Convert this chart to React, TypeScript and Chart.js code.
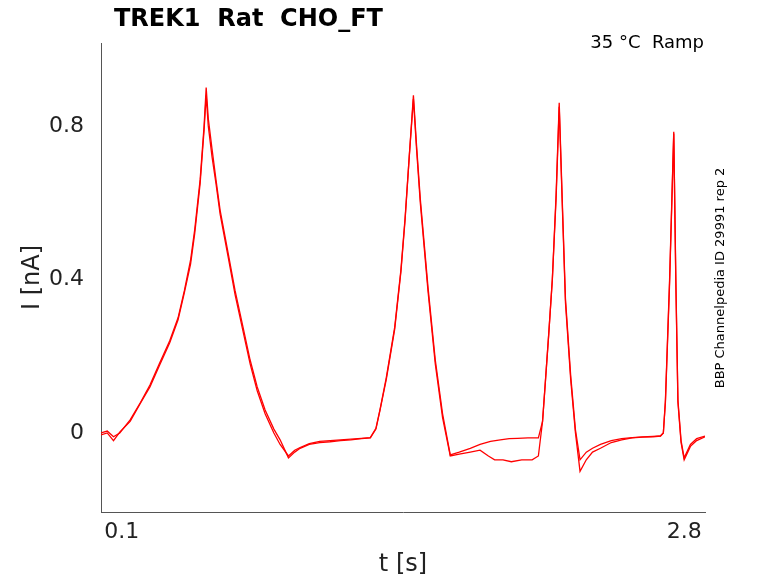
import React, { useEffect, useRef } from "react";
import { Chart, registerables } from "chart.js";
Chart.register(...registerables);

const traceA_t = [0,0.03,0.06,0.09,0.14,0.19,0.235,0.28,0.33,0.37,0.40,0.43,0.45,0.476,0.495,0.505,0.515,0.533,0.552,0.572,0.61,0.644,0.68,0.716,0.75,0.788,0.83,0.86,0.90,0.93,0.956,1.0,1.05,1.10,1.15,1.2,1.25,1.293,1.32,1.34,1.37,1.41,1.44,1.46,1.48,1.50,1.515,1.533,1.57,1.605,1.64,1.677,1.72,1.773,1.82,1.87,1.917,1.96,2.0,2.05,2.10,2.12,2.134,2.15,2.167,2.185,2.20,2.215,2.23,2.255,2.278,2.30,2.33,2.36,2.398,2.45,2.5,2.55,2.6,2.65,2.686,2.70,2.71,2.73,2.75,2.76,2.77,2.785,2.80,2.83,2.86,2.90];
const traceA_i = [0.0,0.005,-0.01,0.0,0.034,0.08,0.125,0.18,0.24,0.3,0.37,0.45,0.53,0.66,0.8,0.9,0.82,0.74,0.66,0.58,0.47,0.37,0.28,0.19,0.12,0.06,0.01,-0.018,-0.065,-0.05,-0.04,-0.03,-0.025,-0.023,-0.02,-0.018,-0.015,-0.013,0.01,0.06,0.14,0.27,0.42,0.555,0.72,0.88,0.75,0.61,0.38,0.19,0.05,-0.057,-0.05,-0.04,-0.03,-0.022,-0.018,-0.015,-0.014,-0.013,-0.013,0.03,0.138,0.26,0.40,0.62,0.86,0.6,0.35,0.15,0.008,-0.07,-0.05,-0.04,-0.03,-0.02,-0.015,-0.012,-0.01,-0.009,-0.008,0.0,0.086,0.4,0.785,0.4,0.086,-0.02,-0.065,-0.03,-0.015,-0.008];
const traceB_t = [0,0.03,0.06,0.09,0.14,0.19,0.235,0.28,0.33,0.37,0.40,0.43,0.45,0.476,0.495,0.505,0.515,0.533,0.552,0.572,0.61,0.644,0.68,0.716,0.75,0.788,0.83,0.86,0.90,0.93,0.956,1.0,1.05,1.10,1.15,1.2,1.25,1.293,1.32,1.34,1.37,1.41,1.44,1.46,1.48,1.50,1.515,1.533,1.57,1.605,1.64,1.677,1.72,1.773,1.82,1.86,1.89,1.93,1.97,2.02,2.07,2.10,2.12,2.134,2.15,2.167,2.185,2.20,2.215,2.23,2.255,2.278,2.30,2.33,2.36,2.398,2.45,2.5,2.55,2.6,2.65,2.686,2.70,2.71,2.73,2.75,2.76,2.77,2.785,2.80,2.83,2.86,2.90];
const traceB_i = [-0.005,0.0,-0.02,0.002,0.03,0.078,0.12,0.175,0.235,0.295,0.365,0.44,0.52,0.65,0.79,0.88,0.8,0.72,0.65,0.57,0.46,0.36,0.27,0.18,0.11,0.05,0.0,-0.03,-0.06,-0.045,-0.038,-0.028,-0.022,-0.02,-0.018,-0.016,-0.014,-0.012,0.012,0.062,0.145,0.275,0.425,0.56,0.72,0.87,0.74,0.6,0.37,0.18,0.04,-0.06,-0.055,-0.05,-0.045,-0.06,-0.07,-0.07,-0.075,-0.07,-0.07,-0.06,0.03,0.135,0.26,0.40,0.61,0.85,0.59,0.34,0.14,0.0,-0.1,-0.07,-0.05,-0.04,-0.025,-0.018,-0.013,-0.011,-0.01,-0.008,0.0,0.08,0.39,0.78,0.39,0.08,-0.025,-0.07,-0.035,-0.02,-0.01];

const xTicks = [0.1, 2.8];
const yTicks = [0, 0.4, 0.8];
const titleText = "TREK1  Rat  CHO_FT";
const condText = "35 °C  Ramp";
const sideText = "BBP Channelpedia ID 29991 rep 2";

export default function App() {
  const ref = useRef<HTMLCanvasElement>(null);
  useEffect(() => {
    const pts = (t: number[], v: number[]) => t.map((x, i) => ({ x, y: v[i] }));
    const font = "DejaVu Sans";
    const deco = {
      id: "deco",
      afterDraw(c: any) {
        const ctx = c.ctx;
        ctx.save();
        ctx.fillStyle = "#000";
        ctx.font = `bold 24px ${font}`;
        ctx.textBaseline = "alphabetic";
        ctx.fillText(titleText, 114, 26);
        ctx.font = `18px ${font}`;
        ctx.textAlign = "right";
        ctx.fillText(condText, 704, 48);
        ctx.font = `13px ${font}`;
        ctx.translate(721, 278);
        ctx.rotate(-Math.PI / 2);
        ctx.textAlign = "center";
        ctx.textBaseline = "middle";
        ctx.fillText(sideText, 0, 0);
        ctx.restore();
      },
    };
    const chart = new Chart(ref.current!, {
      type: "line",
      data: {
        datasets: [
          { data: pts(traceA_t, traceA_i), borderColor: "#ff0000", borderWidth: 1.3, pointRadius: 0, tension: 0 },
          { data: pts(traceB_t, traceB_i), borderColor: "#ff0000", borderWidth: 1.3, pointRadius: 0, tension: 0 },
        ],
      },
      options: {
        animation: false,
        responsive: false,
        layout: { padding: { top: 43, right: 73, left: 14, bottom: 0 } },
        plugins: { legend: { display: false }, tooltip: { enabled: false } },
        scales: {
          x: {
            type: "linear", min: 0, max: 2.9,
            afterBuildTicks: (s: any) => { s.ticks = xTicks.map((v) => ({ value: v })); },
            afterFit: (s: any) => { s.height = 71; },
            grid: { display: false, drawTicks: true, tickLength: 5, color: "#000" },
            border: { color: "#555" },
            ticks: { color: "#222", font: { size: 22, family: font }, maxRotation: 0, padding: 2, callback: (v: any) => String(v) },
            title: { display: true, text: "t [s]", color: "#222", font: { size: 24, family: font }, padding: { top: 2 } },
          },
          y: {
            min: -0.206, max: 1.016,
            afterBuildTicks: (s: any) => { s.ticks = yTicks.map((v) => ({ value: v })); },
            afterFit: (s: any) => { s.width = 87; },
            grid: { display: false, tickLength: 5 },
            border: { color: "#555" },
            ticks: { color: "#222", font: { size: 22, family: font }, padding: 12, callback: (v: any) => (v === 0 ? "0" : String(v)) },
            title: { display: true, text: "I [nA]", color: "#222", font: { size: 24, family: font }, padding: { bottom: 4 } },
          },
        },
      },
      plugins: [deco],
    });
    return () => chart.destroy();
  }, []);
  return (
    <div style={{ position: "absolute", left: 0, top: 0, width: 778, height: 583, background: "#fff" }}>
      <canvas ref={ref} width={778} height={583} />
    </div>
  );
}
